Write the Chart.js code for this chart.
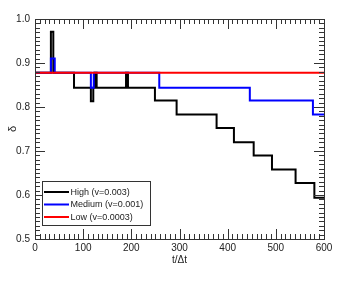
<!DOCTYPE html>
<html>
<head>
<meta charset="utf-8">
<script src="https://cdn.jsdelivr.net/npm/chart.js@4/dist/chart.umd.min.js"></script>
<style>
  body { margin: 0; background: #fff; }
  #grafico { display: block; }
</style>
</head>
<body>
<canvas id="grafico" width="360" height="282"></canvas>
<script>
// datos
const etiquetas = ["High (v=0.003)", "Medium (v=0.001)", "Low (v=0.0003)"];
const colores = ["#000000", "#0000ff", "#ff0000"];

const tAlto = [0, 33, 38, 81, 116, 121, 124, 128, 189, 193, 249, 294, 377, 413, 454, 492, 541, 580, 600];
const dAlto = [0.878, 0.971, 0.878, 0.844, 0.813, 0.844, 0.878, 0.844, 0.878, 0.844, 0.815, 0.783, 0.752, 0.720, 0.690, 0.658, 0.627, 0.594, 0.594];

const tMedio = [0, 33, 41, 116, 122, 258, 446, 577, 600];
const dMedio = [0.878, 0.910, 0.878, 0.844, 0.878, 0.844, 0.815, 0.783, 0.783];

const tBajo = [0, 600];
const dBajo = [0.878, 0.878];

const ticksX = [0, 100, 200, 300, 400, 500, 600];
const ticksY = [0.5, 0.6, 0.7, 0.8, 0.9, 1.0];

const fuente = "'Liberation Sans', Arial, sans-serif";

function puntos(xs, ys) {
  return xs.map((x, i) => ({ x: x, y: ys[i] }));
}

// marco, marcas hacia adentro y leyenda
const marcoPlugin = {
  id: "marco",
  afterDraw(chart) {
    const ctx = chart.ctx;
    const a = chart.chartArea;
    const sx = chart.scales.x;
    const sy = chart.scales.y;
    ctx.save();
    ctx.strokeStyle = "#333";
    ctx.lineWidth = 1;

    // marcas eje x (cada 10, mayores cada 100)
    for (let v = 0; v <= 600; v += 10) {
      const px = Math.round(sx.getPixelForValue(v)) + 0.5;
      const largo = v % 100 === 0 ? 10 : 5;
      ctx.beginPath();
      ctx.moveTo(px, a.bottom);
      ctx.lineTo(px, a.bottom - largo);
      ctx.moveTo(px, a.top);
      ctx.lineTo(px, a.top + largo);
      ctx.stroke();
    }
    // marcas eje y (cada 0.01, mayores cada 0.1)
    for (let i = 50; i <= 100; i++) {
      const py = Math.round(sy.getPixelForValue(i / 100)) + 0.5;
      const largo = i % 10 === 0 ? 10 : 5;
      ctx.beginPath();
      ctx.moveTo(a.left, py);
      ctx.lineTo(a.left + largo, py);
      ctx.moveTo(a.right, py);
      ctx.lineTo(a.right - largo, py);
      ctx.stroke();
    }
    ctx.strokeRect(Math.round(a.left) + 0.5, Math.round(a.top) + 0.5,
      Math.round(a.right - a.left), Math.round(a.bottom - a.top));

    // leyenda
    const lx = 42.5, ly = 181.5, lw = 108, lh = 44;
    ctx.fillStyle = "#fff";
    ctx.fillRect(lx, ly, lw, lh);
    ctx.strokeStyle = "#333";
    ctx.strokeRect(lx, ly, lw, lh);
    ctx.font = "9px " + fuente;
    ctx.textBaseline = "middle";
    chart.data.datasets.forEach((ds, i) => {
      const yy = 192 + i * 12.5;
      ctx.strokeStyle = ds.borderColor;
      ctx.lineWidth = 2;
      ctx.beginPath();
      ctx.moveTo(44, yy);
      ctx.lineTo(69, yy);
      ctx.stroke();
      ctx.fillStyle = "#222";
      ctx.fillText(ds.label, 70.5, yy + 0.5);
    });
    ctx.restore();
  },
};

const ctx = document.getElementById("grafico").getContext("2d");
new Chart(ctx, {
  type: "line",
  data: {
    datasets: [
      { label: etiquetas[0], data: puntos(tAlto, dAlto), borderColor: colores[0], order: 2 },
      { label: etiquetas[1], data: puntos(tMedio, dMedio), borderColor: colores[1], order: 1 },
      { label: etiquetas[2], data: puntos(tBajo, dBajo), borderColor: colores[2], order: 0 },
    ],
  },
  options: {
    responsive: false,
    animation: false,
    devicePixelRatio: 1,
    layout: { padding: { top: 19, right: 36, left: 0, bottom: 0 } },
    elements: {
      line: { stepped: "before", borderWidth: 2, fill: false },
      point: { radius: 0 },
    },
    plugins: {
      legend: { display: false },
      tooltip: { enabled: false },
    },
    scales: {
      x: {
        type: "linear",
        min: 0,
        max: 600,
        afterFit: (s) => { s.height = 43; },
        afterBuildTicks: (s) => { s.ticks = ticksX.map((v) => ({ value: v })); },
        grid: { display: false, drawTicks: false },
        border: { display: false },
        ticks: { padding: 3, color: "#222", font: { family: fuente, size: 10 } },
        title: {
          display: true,
          text: "t/Δt",
          color: "#222",
          font: { family: fuente, size: 10 },
          padding: { top: 0, bottom: 16 },
        },
      },
      y: {
        type: "linear",
        min: 0.5,
        max: 1.0,
        afterFit: (s) => { s.width = 35; },
        afterBuildTicks: (s) => { s.ticks = ticksY.map((v) => ({ value: v })); },
        grid: { display: false, drawTicks: false },
        border: { display: false },
        ticks: {
          padding: 5,
          color: "#222",
          font: { family: fuente, size: 10 },
          callback: (v) => v.toFixed(1),
        },
        title: {
          display: true,
          text: "δ",
          color: "#222",
          font: { family: fuente, size: 11 },
          padding: { top: 6, bottom: 0 },
        },
      },
    },
  },
  plugins: [marcoPlugin],
});
</script>
</body>
</html>
